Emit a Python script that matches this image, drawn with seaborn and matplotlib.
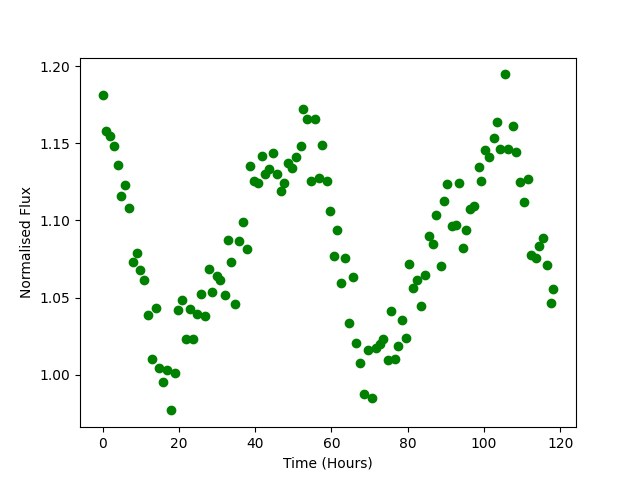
import pandas as pd
import matplotlib
matplotlib.use("Agg")
import matplotlib.pyplot as plt
import seaborn as sns

# time of each sample (hours)
time_hours = [
    0.0, 0.8, 1.9, 3.0, 4.0, 4.8, 5.9, 6.9, 8.0, 9.0,
    9.8, 10.9, 11.9, 12.9, 13.9, 14.8, 15.8, 16.9, 17.9, 19.0,
    19.8, 20.8, 21.9, 22.9, 23.8, 24.8, 25.8, 26.9, 27.9, 28.7,
    29.9, 30.9, 32.0, 32.9, 33.7, 34.7, 35.8, 36.8, 37.9, 38.7,
    39.7, 40.8, 41.8, 42.7, 43.7, 44.7, 45.8, 46.8, 47.6, 48.7,
    49.7, 50.8, 51.9, 52.6, 53.6, 54.6, 55.8, 56.8, 57.5, 58.8,
    59.7, 60.8, 61.5, 62.6, 63.6, 64.7, 65.7, 66.5, 67.6, 68.6,
    69.6, 70.7, 71.6, 72.7, 73.6, 74.7, 75.7, 76.6, 77.5, 78.6,
    79.6, 80.4, 81.5, 82.5, 83.6, 84.6, 85.5, 86.5, 87.5, 88.6,
    89.6, 90.4, 91.5, 92.6, 93.5, 94.6, 95.4, 96.4, 97.5, 98.6,
    99.3, 100.3, 101.4, 102.5, 103.5, 104.3, 105.4, 106.4, 107.5, 108.5,
    109.3, 110.4, 111.4, 112.4, 113.5, 114.3, 115.4, 116.4, 117.5, 118.2,
]

# normalised flux values
flux = [
    1.181, 1.158, 1.155, 1.148, 1.136, 1.116, 1.123, 1.108, 1.073, 1.079,
    1.068, 1.0615, 1.039, 1.010, 1.0435, 1.0045, 0.9955, 1.003, 0.977, 1.001,
    1.042, 1.0487, 1.0234, 1.0429, 1.0234, 1.0394, 1.0526, 1.0381, 1.0688, 1.0539,
    1.0642, 1.0615, 1.0518, 1.0875, 1.0732, 1.0459, 1.0868, 1.0992, 1.0816, 1.1355,
    1.1258, 1.1245, 1.142, 1.1303, 1.1336, 1.1435, 1.1303, 1.1193, 1.124, 1.137,
    1.1342, 1.1409, 1.1485, 1.1721, 1.1654, 1.1258, 1.1654, 1.1273, 1.1492, 1.1258,
    1.1063, 1.077, 1.094, 1.0595, 1.0758, 1.0336, 1.0634, 1.0206, 1.0076, 0.9875,
    1.016, 0.9849, 1.0171, 1.0197, 1.0234, 1.0096, 1.0414, 1.0102, 1.0188, 1.0355,
    1.0238, 1.0719, 1.0563, 1.0617, 1.0446, 1.0647, 1.090, 1.0849, 1.1037, 1.0706,
    1.1128, 1.1238, 1.0961, 1.097, 1.1245, 1.0823, 1.094, 1.1076, 1.1095, 1.1344,
    1.1258, 1.1459, 1.1414, 1.1531, 1.1636, 1.1466, 1.1946, 1.1466, 1.1615, 1.1446,
    1.1251, 1.1121, 1.1266, 1.0779, 1.0758, 1.0836, 1.0888, 1.0712, 1.0466, 1.0556,
]

df = pd.DataFrame({"time": time_hours, "flux": flux})

fig, ax = plt.subplots(figsize=(6.4, 4.8), dpi=100)
sns.scatterplot(data=df, x="time", y="flux", ax=ax,
                color="green", edgecolor="green", linewidth=1, s=36)
ax.set_xlabel("Time (Hours)")
ax.set_ylabel("Normalised Flux")

plt.savefig("out.png", dpi=100)
